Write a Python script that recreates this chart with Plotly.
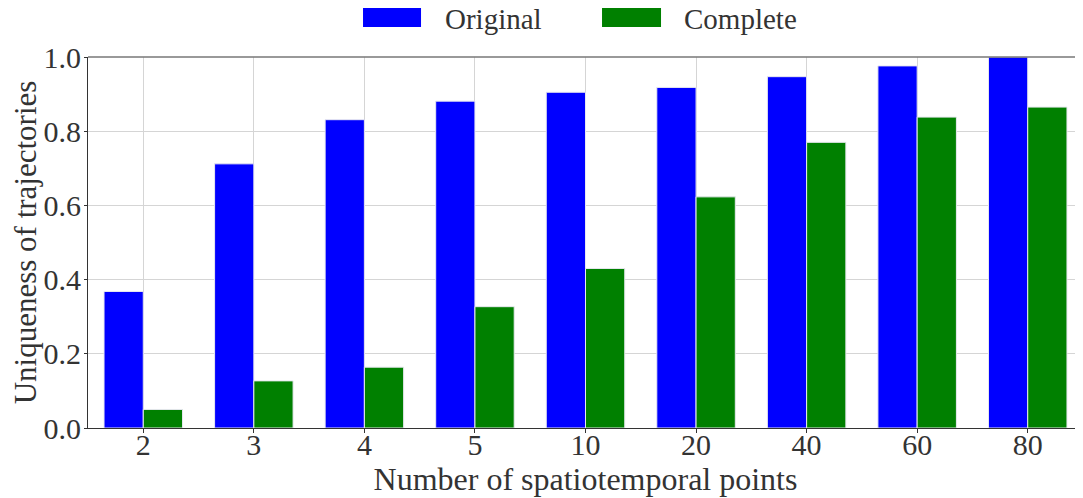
import plotly.graph_objects as go

categories = ["2", "3", "4", "5", "10", "20", "40", "60", "80"]
original = [0.368, 0.712, 0.831, 0.881, 0.905, 0.918, 0.947, 0.976, 1.0]
complete = [0.050, 0.127, 0.164, 0.327, 0.430, 0.623, 0.770, 0.838, 0.865]
series_names = ["Original", "Complete"]
series_colors = ["#0000ff", "#008000"]

FONT = "Liberation Serif"
TXT = "#333333"

fig = go.Figure()
for name, vals, col in zip(series_names, [original, complete], series_colors):
    fig.add_trace(go.Bar(
        x=categories, y=vals, name=name,
        marker=dict(color=col, line=dict(color="#e8e8f0", width=1)),
        showlegend=False,
    ))

# manual legend (patch + text) above the plot
legend_pos = [(0.2764, 0.3347, 0.3568), (0.5166, 0.5759, 0.597)]
for (x0, x1, tx), name, col in zip(legend_pos, series_names, series_colors):
    fig.add_shape(type="rect", xref="paper", yref="paper",
                  x0=x0, x1=x1, y0=1.0809, y1=1.1375,
                  fillcolor=col, line=dict(width=0))
    fig.add_annotation(xref="paper", yref="paper", x=tx, y=1.103,
                       text=name, showarrow=False, xanchor="left", yanchor="middle",
                       font=dict(family=FONT, size=29, color=TXT))

# page body has an 8px margin, so the figure is sized to fit the window
fig.update_layout(
    width=1075, height=490,
    margin=dict(l=80, r=0, t=49, b=70),
    paper_bgcolor="white", plot_bgcolor="white",
    barmode="group", bargap=0.29, bargroupgap=0,
    font=dict(family=FONT, size=30, color=TXT),
)
fig.update_xaxes(
    type="category", range=[-0.5, 8.5],
    showgrid=True, gridcolor="#d5d5d5", gridwidth=1,
    showline=True, linecolor="#333333", linewidth=1.2,
    ticks="outside", ticklen=4, tickcolor="#333333",
    ticklabelstandoff=-14,
    tickfont=dict(family=FONT, size=30, color=TXT),
    title=dict(text="Number of spatiotemporal points", standoff=0,
               font=dict(family=FONT, size=32, color=TXT)),
    automargin=False,
)
fig.update_yaxes(
    range=[0, 1.0], tickvals=[0, 0.2, 0.4, 0.6, 0.8, 1.0],
    tickformat=".1f",
    showgrid=True, gridcolor="#d5d5d5", gridwidth=1,
    showline=True, linecolor="#333333", linewidth=1.2,
    ticks="outside", ticklen=3, tickcolor="#333333",
    ticklabelstandoff=-3,
    tickfont=dict(family=FONT, size=30, color=TXT),
    title=dict(text="Uniqueness of trajectories", standoff=6,
               font=dict(family=FONT, size=31, color=TXT)),
    zeroline=False, automargin=False,
)
# top spine
fig.add_shape(type="line", xref="paper", yref="paper", x0=0, x1=1, y0=1, y1=1,
              line=dict(color="#777777", width=1.5))

fig.write_html("out.html")
